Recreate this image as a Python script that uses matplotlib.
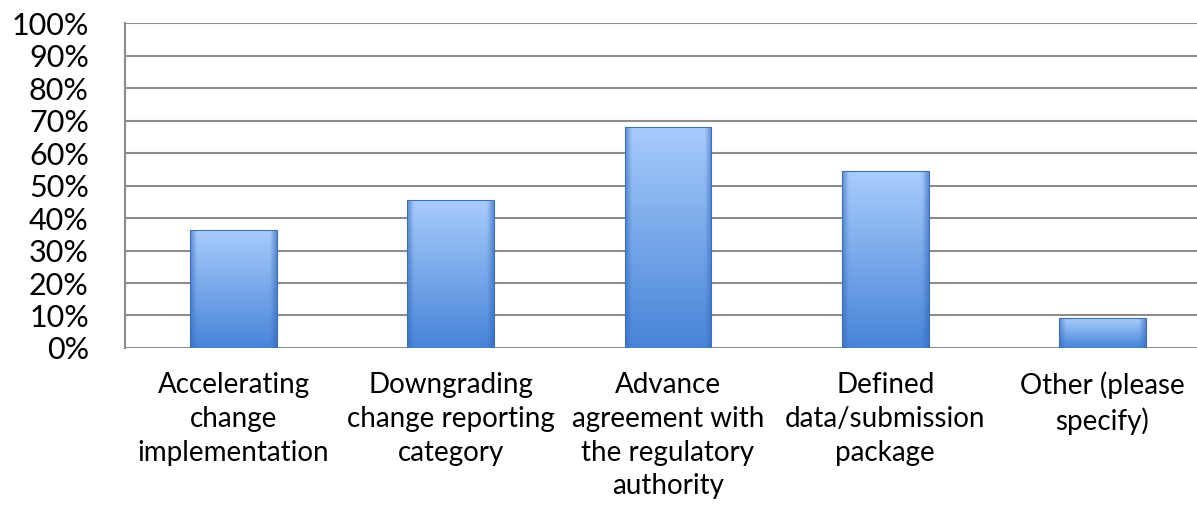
import numpy as np
import matplotlib.pyplot as plt
from matplotlib.patches import Rectangle

categories = ['Accelerating\nchange\nimplementation',
              'Downgrading\nchange reporting\ncategory',
              'Advance\nagreement with\nthe regulatory\nauthority',
              'Defined\ndata/submission\npackage',
              'Other (please\nspecify)']
values = [36.4, 45.5, 68.2, 54.5, 9.1]
yticks = [0, 10, 20, 30, 40, 50, 60, 70, 80, 90, 100]

plt.rcParams['font.family'] = ['Lato', 'DejaVu Sans']

fig = plt.figure(figsize=(11.97, 5.05), dpi=100)
ax = fig.add_axes([0.1044, 0.311, 0.9073, 0.6426])

x = np.arange(len(values))
width = 0.4

# gradient colour map for the bars (light top, darker bottom, darker sides)
top = np.array([168, 204, 252]) / 255
bot = np.array([72, 132, 216]) / 255
side = np.array([55, 105, 185]) / 255
ny, nx = 100, 60
t = np.linspace(0, 1, ny)[:, None, None]  # 0 bottom .. 1 top
grad = bot + (top - bot) * t
grad = np.repeat(grad, nx, axis=1)
u = np.abs(np.linspace(-1, 1, nx))
edge = np.clip((u - 0.85) / 0.15, 0, 1)[None, :, None]
grad = grad * (1 - 0.6 * edge) + side * 0.6 * edge

for xi, v in zip(x, values):
    x0, x1 = xi - width / 2, xi + width / 2
    rect = Rectangle((x0, 0), width, v, facecolor='none',
                     edgecolor='#3f70b5', linewidth=0.8, zorder=3)
    ax.add_patch(rect)
    im = ax.imshow(grad, extent=(x0, x1, 0, v), origin='lower',
                   aspect='auto', zorder=2, interpolation='bilinear')
    im.set_clip_path(rect)

ax.set_xlim(-0.5, len(values) - 0.5)
ax.set_ylim(0, 100)
ax.set_yticks(yticks)
ax.set_yticklabels([f'{t}%' for t in yticks], fontsize=22)
ax.set_xticks(x)
ax.set_xticklabels(categories, fontsize=20, linespacing=1.38)
ax.tick_params(axis='both', length=0)
ax.tick_params(axis='y', pad=26)
ax.tick_params(axis='x', pad=17)

ax.yaxis.grid(True, color='#8c8c8c', linewidth=1.5, zorder=1)
ax.set_axisbelow(True)
for s in ['top', 'right', 'bottom']:
    ax.spines[s].set_visible(False)
ax.spines['left'].set_color('#8c8c8c')
ax.spines['left'].set_linewidth(1.5)

fig.savefig('out.png', dpi=100)
